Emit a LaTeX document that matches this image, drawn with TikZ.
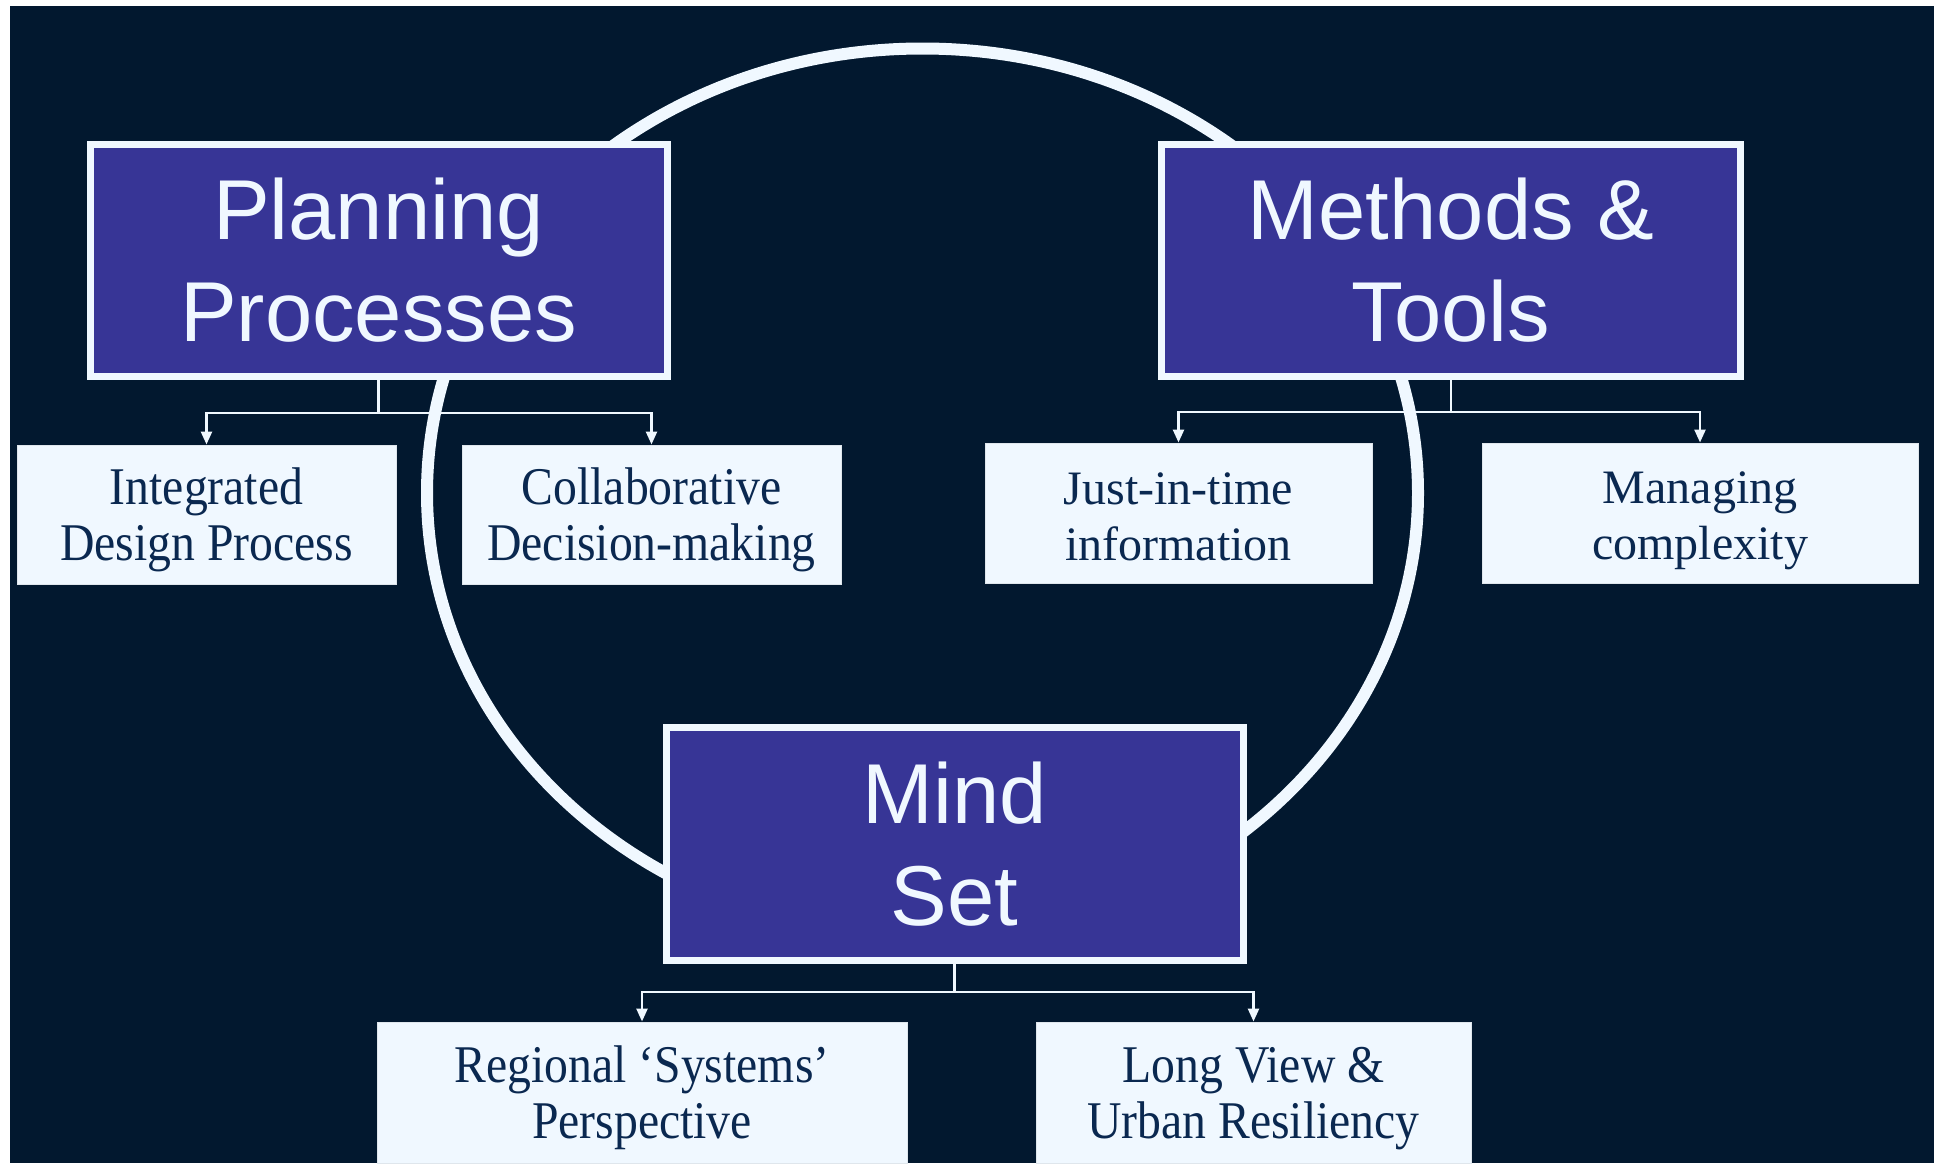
\documentclass[tikz,border=0pt]{standalone}
\usepackage{fontspec}
\setmainfont{Liberation Serif}
\newfontfamily\headsans{Liberation Sans}
\newfontfamily\boxserif[FakeStretch=0.9]{Liberation Serif}
\usetikzlibrary{arrows.meta}
\definecolor{bgnavy}{RGB}{2,24,47}
\definecolor{boxpurple}{RGB}{55,53,150}
\definecolor{paleblue}{RGB}{240,248,255}
\definecolor{inknavy}{RGB}{10,40,80}
\newcommand\tallstrut{\rule{0pt}{48pt}}
\tikzset{
	headbox/.style={draw=paleblue, line width=7pt, fill=boxpurple, text=paleblue, align=center, inner sep=0pt, minimum width=577pt, minimum height=232pt, font=\headsans\fontsize{85}{102}\selectfont},
	subbox/.style={fill=paleblue, draw=paleblue!85!gray, line width=1pt, text=inknavy, align=center, inner sep=0pt, font=\boxserif\fontsize{53}{56}\selectfont},
	subboxplain/.style={subbox, font=\rmfamily\fontsize{48}{56}\selectfont},
	conn/.style={draw=paleblue, line width=2.5pt},
	connarrow/.style={conn, -{Triangle[width=11pt,length=13pt]}},
	ring/.style={draw=paleblue, line width=12pt}
}

\begin{document}
\begin{tikzpicture}[x=1pt, y=-1pt]
			%%%%% START %%%%%
			
			\useasboundingbox (0, 0) rectangle (1934, 1163);
			\fill[white] (0, 0) rectangle (1934, 1163);
			\fill[bgnavy] (10, 6) rectangle (1934, 1163);
			
			\draw[ring] (922.5, 493) ellipse [x radius=495.5, y radius=444.5];
			
			\node[headbox] (plan) at (378.5, 260.5) {Planning\\Processes};
			\node[headbox, minimum width=579pt] (methods) at (1451, 260.5) {Methods \&\\Tools};
			\node[headbox, minimum height=233pt] (mind) at (954.5, 844) {Mind\\Set};
			
			\node[subbox, minimum width=379pt, minimum height=139pt] (integ) at (206.5, 514.5) {\tallstrut Integrated\\Design Process};
			\node[subbox, minimum width=379pt, minimum height=139pt] (collab) at (651.5, 514.5) {\tallstrut Collaborative\\Decision-making};
			\node[subboxplain, minimum width=387pt, minimum height=140pt] (jit) at (1178.5, 513) {\rule{0pt}{40pt}Just-in-time\\information};
			\node[subboxplain, minimum width=436pt, minimum height=140pt] (manag) at (1700, 513) {\tallstrut Managing\\complexity};
			\node[subbox, minimum width=530pt, minimum height=141pt] (region) at (642, 1092.5) {\tallstrut Regional ‘Systems’\\Perspective};
			\node[subbox, minimum width=435pt, minimum height=141pt] (longv) at (1253.5, 1092.5) {\tallstrut Long View \&\\Urban Resiliency};
			
			\draw[conn] (plan.south) -- ++(0, 33) coordinate (planfork);
			\draw[connarrow] (planfork) -| (integ.north);
			\draw[connarrow] (planfork) -| (collab.north);
			
			\draw[conn] (methods.south) -- ++(0, 32) coordinate (methfork);
			\draw[connarrow] (methfork) -| (jit.north);
			\draw[connarrow] (methfork) -| (manag.north);
			
			\draw[conn] (mind.south) -- ++(0, 28) coordinate (mindfork);
			\draw[connarrow] (mindfork) -| (region.north);
			\draw[connarrow] (mindfork) -| (longv.north);
			
			%%%%% END %%%%%
\end{tikzpicture}
\end{document}
